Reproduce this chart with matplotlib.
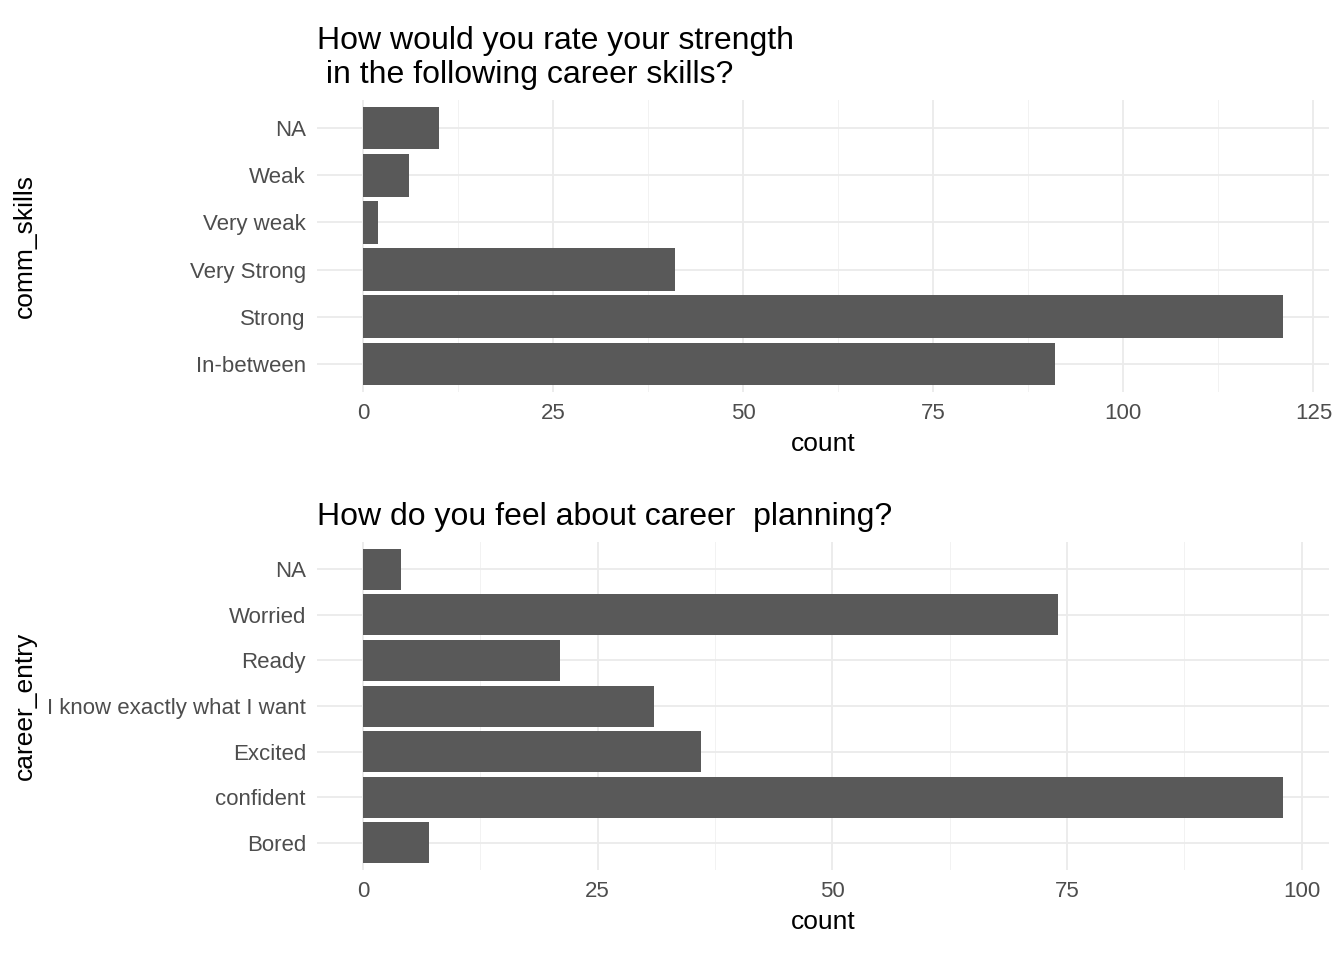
import numpy as np
import matplotlib.pyplot as plt

plt.rcParams['font.family'] = ['Liberation Sans', 'DejaVu Sans']

COMM_LABELS = ["In-between", "Strong", "Very Strong", "Very weak", "Weak", "NA"]
COMM_COUNTS = [91, 121, 41, 2, 6, 10]
CAREER_LABELS = ["Bored", "confident", "Excited", "I know exactly what I want", "Ready", "Worried", "NA"]
CAREER_COUNTS = [7, 98, 36, 31, 21, 74, 4]

W, H = 1344, 960
fig = plt.figure(figsize=(W / 100, H / 100), dpi=100)


def panel(rect, labels, counts, major, ylab, title):
    l, t, r, b = rect
    ax = fig.add_axes([l / W, 1 - b / H, (r - l) / W, (b - t) / H])
    y = np.arange(1, len(labels) + 1)
    ax.barh(y, counts, height=0.9, color="#595959", zorder=3)
    ax.set_xticks(major)
    ax.set_xticks([m + (major[1] - major[0]) / 2 for m in major], minor=True)
    ax.set_xlim(-max(counts) * 0.05, max(counts) * 1.05)
    ax.set_ylim(0.4, len(labels) + 0.6)
    ax.set_yticks(y)
    ax.set_yticklabels(labels)
    ax.grid(which="major", color="#ebebeb", lw=1.3, zorder=0)
    ax.grid(which="minor", axis="x", color="#f2f2f2", lw=0.7, zorder=0)
    for s in ax.spines.values():
        s.set_visible(False)
    ax.tick_params(length=0, labelsize=16, labelcolor="#4d4d4d", pad=8)
    ax.tick_params(which="minor", length=0)
    ax.set_xlabel("count", fontsize=19, labelpad=6)
    ax.set_ylabel(ylab, fontsize=19, labelpad=8)
    ax.set_title(title, fontsize=23, loc="left", x=0, pad=12, ha="left")
    return ax


panel((317, 100, 1329, 392), COMM_LABELS, COMM_COUNTS, [0, 25, 50, 75, 100, 125],
      "comm_skills", "How would you rate your strength\n in the following career skills?")
panel((317, 542, 1329, 870), CAREER_LABELS, CAREER_COUNTS, [0, 25, 50, 75, 100],
      "career_entry", "How do you feel about career  planning?")
fig.axes[0].yaxis.set_label_coords(-280 / 1012, 0.5)
fig.axes[1].yaxis.set_label_coords(-280 / 1012, 0.5)

fig.savefig("out.png", dpi=100)
